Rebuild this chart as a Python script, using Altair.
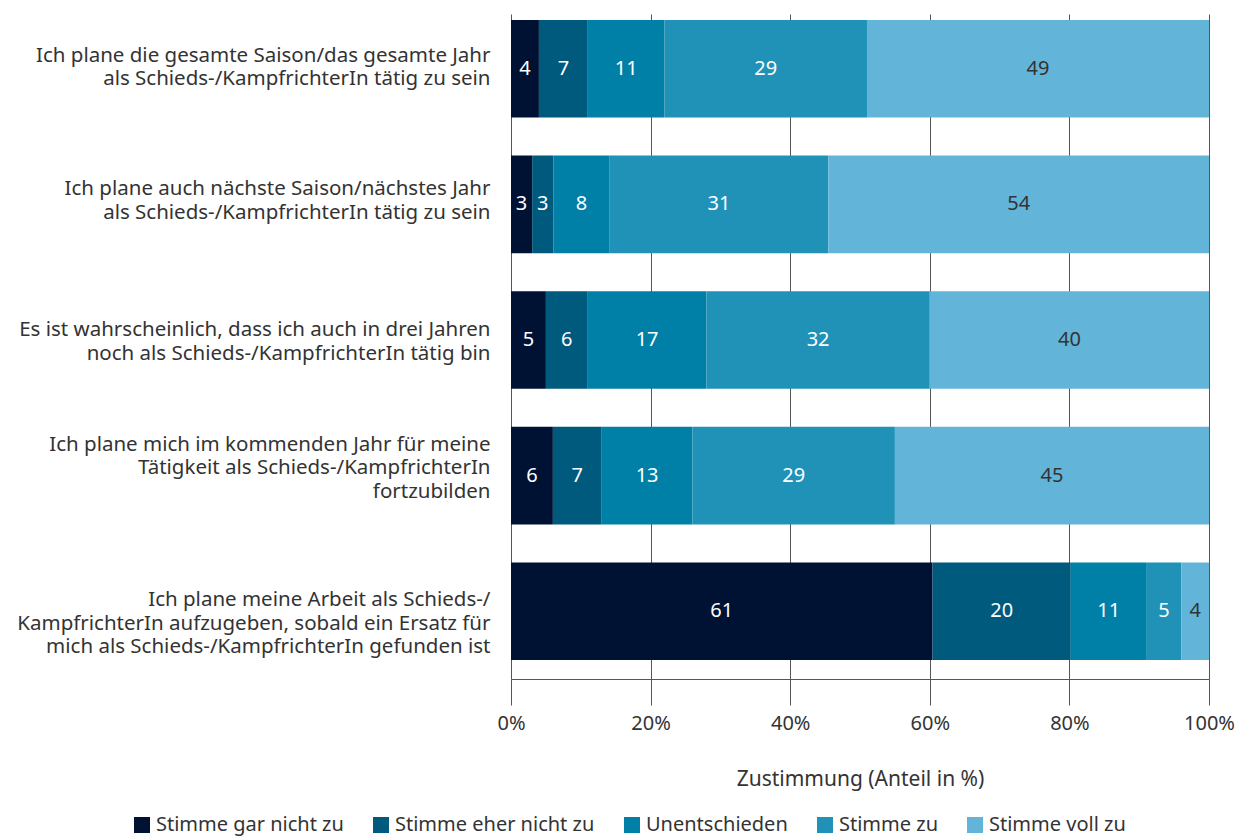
import altair as alt
import pandas as pd

categories = [
    "Ich plane die gesamte Saison/das gesamte Jahr|als Schieds-/KampfrichterIn tätig zu sein",
    "Ich plane auch nächste Saison/nächstes Jahr|als Schieds-/KampfrichterIn tätig zu sein",
    "Es ist wahrscheinlich, dass ich auch in drei Jahren|noch als Schieds-/KampfrichterIn tätig bin",
    "Ich plane mich im kommenden Jahr für meine|Tätigkeit als Schieds-/KampfrichterIn|fortzubilden",
    "Ich plane meine Arbeit als Schieds-/|KampfrichterIn aufzugeben, sobald ein Ersatz für|mich als Schieds-/KampfrichterIn gefunden ist",
]
series = ["Stimme gar nicht zu", "Stimme eher nicht zu", "Unentschieden", "Stimme zu", "Stimme voll zu"]
gar_nicht = [4, 3, 5, 6, 61]
eher_nicht = [7, 3, 6, 7, 20]
unentschieden = [11, 8, 17, 13, 11]
stimme_zu = [29, 31, 32, 29, 5]
voll_zu = [49, 54, 40, 45, 4]
colors = ["#001233", "#005a7d", "#0080a6", "#2092b8", "#62b5d9"]

rows = []
for i, vals in enumerate([gar_nicht, eher_nicht, unentschieden, stimme_zu, voll_zu]):
    for c, v in zip(categories, vals):
        rows.append({"cat": c, "series": series[i], "idx": i, "value": v})
df = pd.DataFrame(rows)

FONT = "Noto Sans"

label_offset = {
    "condition": [
        {"test": "indexof(datum.value, 'Saison/das') >= 0", "value": -13},
        {"test": "indexof(datum.value, 'nächstes') >= 0", "value": -15},
        {"test": "indexof(datum.value, 'drei Jahren') >= 0", "value": -10},
        {"test": "indexof(datum.value, 'kommenden') >= 0", "value": -31},
    ],
    "value": -11,
}

y_enc = alt.Y(
    "cat:N",
    sort=categories,
    title=None,
    scale=alt.Scale(paddingInner=0.28, paddingOuter=0.092, align=0.24),
    axis=alt.Axis(
        domain=False, ticks=False, labelPadding=21, labelFontSize=20.5,
        labelFont=FONT, labelColor="#333333", labelLimit=600,
        labelLineHeight=23.5, labelExpr="split(datum.label, '|')",
        labelOffset=label_offset,
    ),
)

bars = alt.Chart(df).mark_bar().encode(
    x=alt.X(
        "value:Q", stack="normalize",
        scale=alt.Scale(domain=[0, 1]),
        axis=alt.Axis(
            format="%", values=[0, 0.2, 0.4, 0.6, 0.8, 1.0], grid=True,
            gridColor="#555555", domainColor="#555555", tickColor="#555555",
            tickSize=26, labelPadding=8, labelFontSize=20, labelFont=FONT,
            labelColor="#333333", labelFlush=False,
            title="Zustimmung (Anteil in %)",
            titleFontSize=21, titleFont=FONT, titleFontWeight="normal",
            titleColor="#333333", titlePadding=35,
        ),
    ),
    y=y_enc,
    color=alt.Color(
        "series:N",
        scale=alt.Scale(domain=series, range=colors),
        legend=alt.Legend(
            orient="none", legendX=-379, legendY=801, direction="horizontal",
            columns=5, title=None, symbolType="square", symbolSize=256,
            symbolStrokeWidth=0, labelFontSize=20, labelLimit=400,
            labelFont=FONT, labelColor="#333333",
            columnPadding=27, labelOffset=4,
        ),
    ),
    order=alt.Order("idx:Q"),
)

labels = alt.Chart(df).transform_joinaggregate(
    total="sum(value)", groupby=["cat"]
).transform_window(
    cum="sum(value)", sort=[alt.SortField("idx")], groupby=["cat"],
    frame=[None, 0],
).transform_calculate(
    mid="(datum.cum - datum.value / 2) / datum.total"
).mark_text(fontSize=20, font=FONT).encode(
    x=alt.X("mid:Q"),
    y=alt.Y("cat:N", sort=categories),
    text=alt.Text("value:Q", format=".0f"),
    color=alt.condition("datum.idx == 4", alt.value("#333333"), alt.value("#ffffff")),
)

chart = alt.layer(bars, labels).properties(
    width=698, height=665,
    autosize=alt.AutoSizeParams(type="none"),
    padding={"left": 503, "top": 6, "right": 26, "bottom": 157},
).configure_view(stroke=None)

chart.save("out.html", embed_options={"renderer": "svg", "actions": False})
